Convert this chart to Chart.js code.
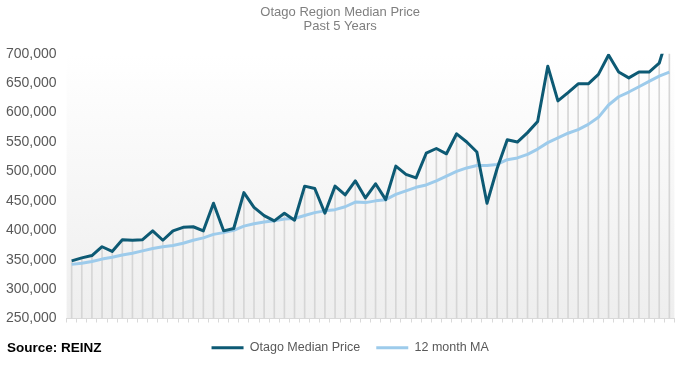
<!DOCTYPE html>
<html>
<head>
<meta charset="utf-8">
<script src="https://cdn.jsdelivr.net/npm/chart.js@4"></script>
<style>
  html, body { margin: 0; padding: 0; background: #ffffff; }
  #caixa { width: 689px; height: 367px; }
</style>
</head>
<body>
<div id="caixa"><canvas id="graficoOtago"></canvas></div>
<script>
// Meses (60 = 5 anos)
const meses = [
    "Jun-16", "Jul-16", "Aug-16", "Sep-16", "Oct-16", "Nov-16", "Dec-16", "Jan-17", "Feb-17", "Mar-17", "Apr-17", "May-17",
    "Jun-17", "Jul-17", "Aug-17", "Sep-17", "Oct-17", "Nov-17", "Dec-17", "Jan-18", "Feb-18", "Mar-18", "Apr-18", "May-18",
    "Jun-18", "Jul-18", "Aug-18", "Sep-18", "Oct-18", "Nov-18", "Dec-18", "Jan-19", "Feb-19", "Mar-19", "Apr-19", "May-19",
    "Jun-19", "Jul-19", "Aug-19", "Sep-19", "Oct-19", "Nov-19", "Dec-19", "Jan-20", "Feb-20", "Mar-20", "Apr-20", "May-20",
    "Jun-20", "Jul-20", "Aug-20", "Sep-20", "Oct-20", "Nov-20", "Dec-20", "Jan-21", "Feb-21", "Mar-21", "Apr-21", "May-21"
];

// Preço mediano Otago
const precoMediano = [
    348000, 353000, 357000, 372000, 364000, 384000, 383000, 384000, 399000, 383000, 399000, 405000,
    406000, 399000, 446000, 399000, 403000, 464000, 439000, 425000, 416000, 429000, 417000, 475000,
    471000, 429000, 475000, 460000, 484000, 455000, 479000, 452000, 509000, 495000, 489000, 531000,
    539000, 530000, 564000, 550000, 533000, 446000, 505000, 554000, 550000, 566000, 585000, 679000,
    620000, 634000, 649000, 649000, 665000, 698000, 669000, 659000, 669000, 669000, 684000, 740000
];

// Média móvel 12 meses
const mediaMovel = [
    342000, 344000, 347000, 351000, 354000, 358000, 361000, 365000, 369000, 372000, 374000, 378000,
    383000, 387000, 393000, 396000, 400000, 407000, 411000, 414000, 416000, 419000, 420000, 425000,
    430000, 433000, 435000, 440000, 448000, 447000, 450000, 452000, 461000, 467000, 473000, 477000,
    484000, 492000, 500000, 506000, 510000, 510000, 512000, 520000, 523000, 529000, 538000, 549000,
    557000, 565000, 571000, 580000, 592000, 613000, 627000, 635000, 644000, 653000, 662000, 669000
];

// Eixo Y
const eixoMin = 250000;
const eixoMax = 700000;
const eixoPasso = 50000;

const titulo = ["Otago Region Median Price", "Past 5 Years"];
const fonte = "Source: REINZ";

// fundo em degradê da área do gráfico
const fundoDegrade = {
    id: "fundoDegrade",
    beforeDraw(chart) {
        const { ctx, chartArea: a } = chart;
        const g = ctx.createLinearGradient(0, a.top, 0, a.bottom);
        g.addColorStop(0, "#ffffff");
        g.addColorStop(1, "#eeeeee");
        ctx.save();
        ctx.fillStyle = g;
        ctx.fillRect(a.left, a.top, a.right - a.left, a.bottom - a.top);
        ctx.restore();
    }
};

// texto "Source: REINZ" + legenda um pouco para a direita
const textoFonte = {
    id: "textoFonte",
    afterLayout(chart) {
        chart.legend.left += 10;
        chart.legend.right += 10;
    },
    afterDraw(chart) {
        const ctx = chart.ctx;
        ctx.save();
        ctx.font = "bold 13.5px 'Liberation Sans', Arial, sans-serif";
        ctx.fillStyle = "#000000";
        ctx.textBaseline = "middle";
        ctx.textAlign = "left";
        ctx.fillText(fonte, 7, 348);
        ctx.restore();
    }
};

const ctx = document.getElementById("graficoOtago").getContext("2d");

new Chart(ctx, {
    data: {
        labels: meses,
        datasets: [
            {
                type: "line",
                label: "Otago Median Price",
                data: precoMediano,
                borderColor: "#0d5a74",
                backgroundColor: "#0d5a74",
                borderWidth: 3,
                pointRadius: 0,
                tension: 0,
                borderJoinStyle: "round"
            },
            {
                type: "line",
                label: "12 month MA",
                data: mediaMovel,
                borderColor: "#9dcbeb",
                backgroundColor: "#9dcbeb",
                borderWidth: 3,
                pointRadius: 0,
                tension: 0,
                borderJoinStyle: "round"
            },
            {
                // linhas verticais (drop lines)
                type: "bar",
                label: "drop",
                data: precoMediano,
                backgroundColor: "#d6d6d6",
                barThickness: 1
            }
        ]
    },
    options: {
        responsive: true,
        maintainAspectRatio: false,
        animation: false,
        layout: {
            padding: { left: 6, right: 14.6, top: 0, bottom: 3 }
        },
        plugins: {
            title: {
                display: true,
                text: titulo,
                color: "#7f7f7f",
                font: { family: "'Liberation Sans', Arial, sans-serif", size: 13, weight: "normal", lineHeight: 1.05 },
                padding: { top: 5.5, bottom: 21 }
            },
            legend: {
                position: "bottom",
                labels: {
                    filter: item => item.text !== "drop",
                    usePointStyle: true,
                    pointStyle: "line",
                    pointStyleWidth: 32,
                    color: "#595959",
                    padding: 16,
                    font: { family: "'Liberation Sans', Arial, sans-serif", size: 12.5 }
                }
            },
            tooltip: { enabled: false }
        },
        scales: {
            x: {
                offset: true,
                grid: {
                    offset: true,
                    drawOnChartArea: false,
                    drawTicks: true,
                    tickLength: 4,
                    color: "#d9d9d9"
                },
                border: { display: true, color: "#d9d9d9" },
                ticks: { display: false },
                afterFit: scale => { scale.height = 7; }
            },
            y: {
                min: eixoMin,
                max: eixoMax,
                grid: { display: false, drawTicks: false },
                border: { display: false },
                ticks: {
                    stepSize: eixoPasso,
                    padding: 10,
                    color: "#595959",
                    font: { family: "'Liberation Sans', Arial, sans-serif", size: 14 },
                    callback: v => v.toLocaleString("en-US")
                },
                afterFit: scale => { scale.width = 60.6; }
            }
        }
    },
    plugins: [fundoDegrade, textoFonte]
});
</script>
</body>
</html>
